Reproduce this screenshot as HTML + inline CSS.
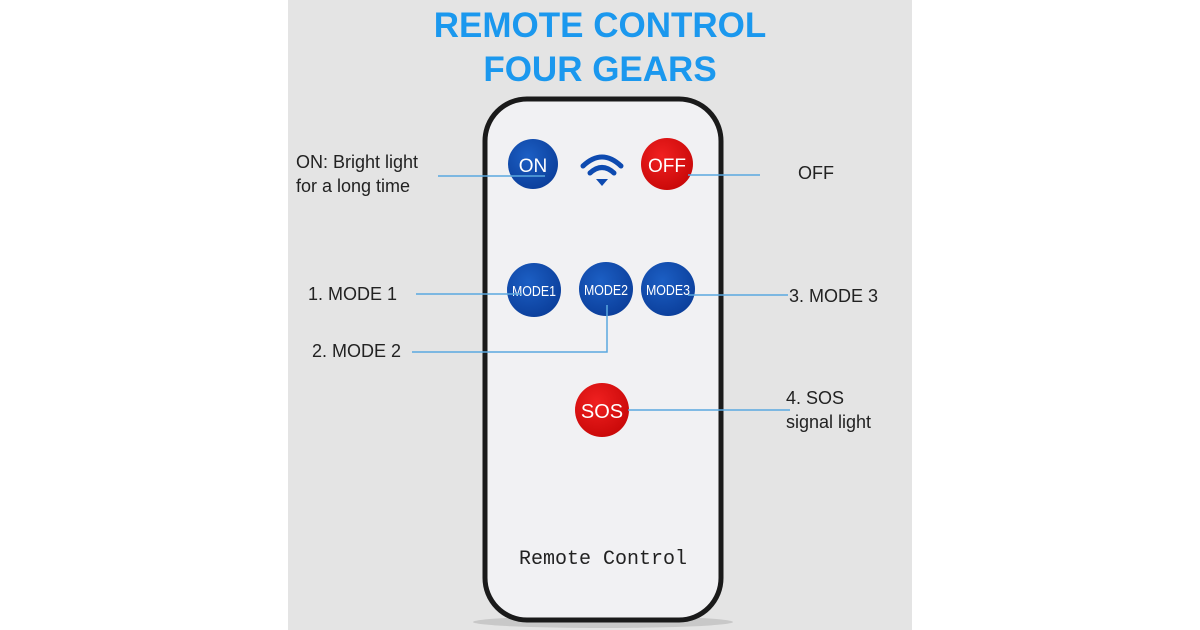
<!DOCTYPE html>
<html><head><style>
body{margin:0;width:1200px;height:630px;background:#fff;position:relative;overflow:hidden;font-family:"Liberation Sans",sans-serif}
.panel{position:absolute;left:288px;top:0;width:624px;height:630px;background:#e4e4e4}
.t{position:absolute;left:288px;width:624px;text-align:center;color:#1b98ee;font-weight:bold;font-size:35px;letter-spacing:0px}
.lab{position:absolute;color:#222;font-size:18px;line-height:24px}
</style></head><body>
<div class="panel"></div>
<div class="t" style="top:6px">REMOTE CONTROL</div>
<div class="t" style="top:50px">FOUR GEARS</div>
<svg width="1200" height="630" style="position:absolute;left:0;top:0">
<defs>
<radialGradient id="b" cx="40%" cy="35%" r="70%"><stop offset="0" stop-color="#1c5fc4"/><stop offset="1" stop-color="#0b3e9a"/></radialGradient>
<radialGradient id="r" cx="40%" cy="35%" r="70%"><stop offset="0" stop-color="#f02020"/><stop offset="1" stop-color="#c80808"/></radialGradient>
</defs>
<ellipse cx="603" cy="622" rx="130" ry="6" fill="#c8c8c8"/>
<rect x="485" y="99" width="236" height="521" rx="42" fill="#f1f1f3" stroke="#1a1a1a" stroke-width="5"/>
<circle cx="533" cy="164" r="25" fill="url(#b)"/>
<circle cx="667" cy="164" r="26" fill="url(#r)"/>
<circle cx="534" cy="290" r="27" fill="url(#b)"/>
<circle cx="606" cy="289" r="27" fill="url(#b)"/>
<circle cx="668" cy="289" r="27" fill="url(#b)"/>
<circle cx="602" cy="410" r="27" fill="url(#r)"/>
<g fill="none" stroke="#0d4ab0" stroke-width="5" stroke-linecap="round">
<path d="M583 166 Q602 148 621 166"/><path d="M590 173 Q602 162 614 173"/>
</g>
<path d="M596 179 L608 179 L602 186Z" fill="#0d4ab0"/>
<g font-family="Liberation Sans Narrow, Liberation Sans, sans-serif" fill="#fff" text-anchor="middle">
<text x="533" y="172" font-size="19">ON</text>
<text x="667" y="172" font-size="19">OFF</text>
<text x="534" y="296" font-size="15" textLength="44" lengthAdjust="spacingAndGlyphs">MODE1</text>
<text x="606" y="295" font-size="15" textLength="44" lengthAdjust="spacingAndGlyphs">MODE2</text>
<text x="668" y="295" font-size="15" textLength="44" lengthAdjust="spacingAndGlyphs">MODE3</text>
<text x="602" y="418" font-size="20">SOS</text>
</g>
<text x="603" y="564" text-anchor="middle" font-family="Liberation Mono, monospace" font-size="20" fill="#222">Remote Control</text>
<g stroke="#5aa8e0" stroke-width="1.5" fill="none">
<path d="M438 176 H545"/>
<path d="M688 175 H760"/>
<path d="M416 294 H522"/>
<path d="M688 295 H788"/>
<path d="M607 305 V352 H412"/>
<path d="M628 410 H790"/>
</g>
</svg>
<div class="lab" style="left:296px;top:150px">ON: Bright light<br>for a long time</div>
<div class="lab" style="left:798px;top:161px">OFF</div>
<div class="lab" style="left:308px;top:282px">1. MODE 1</div>
<div class="lab" style="left:312px;top:339px">2. MODE 2</div>
<div class="lab" style="left:789px;top:284px">3. MODE 3</div>
<div class="lab" style="left:786px;top:386px">4. SOS<br>signal light</div>
</body></html>
